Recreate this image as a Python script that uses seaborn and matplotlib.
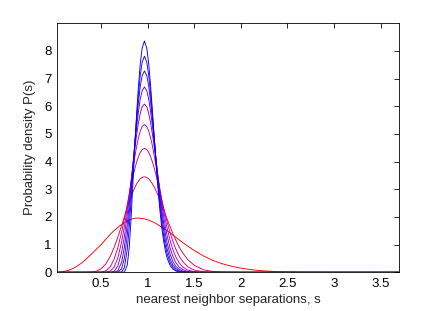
import matplotlib
matplotlib.use("Agg")
import matplotlib.pyplot as plt
import pandas as pd
import seaborn as sns

# widest (red) curve
s_red = [0.03, 0.06, 0.1, 0.15, 0.2, 0.25, 0.3, 0.35, 0.4, 0.45, 0.5, 0.55, 0.6, 0.65,
         0.7, 0.75, 0.8, 0.85, 0.9, 0.95, 1.0, 1.05, 1.1, 1.15, 1.2, 1.25, 1.3, 1.35,
         1.4, 1.45, 1.5, 1.6, 1.7, 1.8, 1.9, 2.0, 2.1, 2.2, 2.3, 2.4, 2.5, 2.6, 2.8,
         3.0, 3.7]
p_red = [0.00, 0.01, 0.03, 0.07, 0.14, 0.24, 0.36, 0.51, 0.67, 0.84, 1.00, 1.19, 1.38,
         1.54, 1.68, 1.80, 1.89, 1.95, 1.96, 1.94, 1.90, 1.83, 1.74, 1.63, 1.52, 1.40,
         1.27, 1.14, 1.02, 0.90, 0.79, 0.59, 0.43, 0.31, 0.22, 0.15, 0.10, 0.065, 0.04,
         0.025, 0.015, 0.009, 0.003, 0.001, 0.0]

# narrower curves share one grid
s_narrow = [0.03, 0.3, 0.4, 0.45, 0.5, 0.55, 0.6, 0.64, 0.68, 0.72, 0.75, 0.78, 0.80,
            0.82, 0.84, 0.86, 0.88, 0.90, 0.92, 0.94, 0.965, 0.99, 1.01, 1.03, 1.05,
            1.07, 1.09, 1.11, 1.13, 1.15, 1.17, 1.19, 1.21, 1.24, 1.27, 1.30, 1.34,
            1.38, 1.43, 1.5, 1.6, 1.7, 1.8, 2.0, 3.7]
p_1 = [0, 0, 0.01, 0.04, 0.13, 0.30, 0.59, 0.90, 1.28, 1.69, 2.01, 2.33, 2.53, 2.73,
       2.90, 3.05, 3.19, 3.29, 3.38, 3.43, 3.45, 3.43, 3.38, 3.30, 3.20, 3.08, 2.94,
       2.79, 2.62, 2.45, 2.27, 2.09, 1.91, 1.65, 1.40, 1.17, 0.90, 0.68, 0.46, 0.25,
       0.09, 0.03, 0.01, 0, 0]
p_2 = [0, 0, 0, 0, 0.01, 0.05, 0.21, 0.48, 0.90, 1.45, 1.93, 2.44, 2.78, 3.11, 3.43,
       3.72, 3.97, 4.17, 4.33, 4.43, 4.48, 4.44, 4.34, 4.19, 3.99, 3.77, 3.51, 3.23,
       2.94, 2.64, 2.35, 2.07, 1.80, 1.44, 1.12, 0.85, 0.57, 0.37, 0.20, 0.08, 0.02,
       0, 0, 0, 0]
p_3 = [0, 0, 0, 0, 0, 0, 0.05, 0.19, 0.53, 1.10, 1.67, 2.32, 2.79, 3.26, 3.72, 4.15,
       4.53, 4.85, 5.10, 5.27, 5.34, 5.27, 5.11, 4.88, 4.58, 4.22, 3.84, 3.43, 3.02,
       2.62, 2.24, 1.89, 1.57, 1.15, 0.82, 0.57, 0.33, 0.18, 0.08, 0.02, 0, 0, 0, 0, 0]
p_4 = [0, 0, 0, 0, 0, 0, 0, 0.04, 0.23, 0.72, 1.31, 2.08, 2.65, 3.25, 3.85, 4.42,
       4.94, 5.39, 5.74, 5.98, 6.08, 5.98, 5.75, 5.42, 5.00, 4.53, 4.01, 3.49, 2.97,
       2.48, 2.04, 1.64, 1.30, 0.88, 0.58, 0.36, 0.18, 0.09, 0.03, 0.01, 0, 0, 0, 0, 0]
p_5 = [0, 0, 0, 0, 0, 0, 0, 0, 0.06, 0.36, 0.91, 1.73, 2.39, 3.11, 3.84, 4.55, 5.22,
       5.79, 6.26, 6.56, 6.70, 6.56, 6.27, 5.84, 5.30, 4.70, 4.06, 3.43, 2.83, 2.28,
       1.80, 1.39, 1.04, 0.66, 0.39, 0.22, 0.10, 0.04, 0.01, 0, 0, 0, 0, 0, 0]
p_6 = [0, 0, 0, 0, 0, 0, 0, 0, 0.01, 0.13, 0.52, 1.32, 2.05, 2.88, 3.76, 4.62, 5.43,
       6.14, 6.72, 7.10, 7.28, 7.11, 6.74, 6.20, 5.54, 4.81, 4.06, 3.33, 2.66, 2.07,
       1.56, 1.15, 0.83, 0.48, 0.26, 0.14, 0.05, 0.02, 0, 0, 0, 0, 0, 0, 0]
p_7 = [0, 0, 0, 0, 0, 0, 0, 0, 0, 0.01, 0.18, 0.81, 1.56, 2.51, 3.55, 4.59, 5.57,
       6.42, 7.12, 7.59, 7.81, 7.60, 7.14, 6.49, 5.71, 4.85, 3.99, 3.19, 2.46, 1.84,
       1.34, 0.95, 0.65, 0.35, 0.18, 0.08, 0.03, 0.01, 0, 0, 0, 0, 0, 0, 0]
p_8 = [0, 0, 0, 0, 0, 0, 0, 0, 0, 0, 0.01, 0.25, 0.84, 1.86, 3.14, 4.44, 5.66, 6.69,
       7.53, 8.10, 8.36, 8.10, 7.56, 6.79, 5.87, 4.89, 3.93, 3.04, 2.27, 1.64, 1.15,
       0.77, 0.50, 0.25, 0.12, 0.05, 0.01, 0, 0, 0, 0, 0, 0, 0, 0]

curve_names = ["c0", "c1", "c2", "c3", "c4", "c5", "c6", "c7", "c8"]
x_ticks = [0.5, 1, 1.5, 2, 2.5, 3, 3.5]
x_tick_labels = ["0.5", "1", "1.5", "2", "2.5", "3", "3.5"]
y_ticks = [0, 1, 2, 3, 4, 5, 6, 7, 8]

frames = [pd.DataFrame({"s": s_red, "P": p_red, "curve": curve_names[0]})]
for name, vals in zip(curve_names[1:], [p_1, p_2, p_3, p_4, p_5, p_6, p_7, p_8]):
    frames.append(pd.DataFrame({"s": s_narrow, "P": vals, "curve": name}))
df = pd.concat(frames, ignore_index=True)

sns.set_theme(style="white")
plt.rcParams["font.family"] = ["Liberation Sans", "DejaVu Sans"]

fig = plt.figure(figsize=(4.41, 3.11), dpi=100)
ax = fig.add_axes([0.130, 0.1244, 0.7754, 0.8007])

n = len(curve_names) - 1
palette = []
for i in range(n + 1):
    t = (i / n) ** 0.7
    r, b = 1 - t, t
    k = 1.0 / (0.6 * max(r, b) + 0.4)
    palette.append((min(1, r * k), 0.0, min(1, b * k)))
sns.lineplot(data=df, x="s", y="P", hue="curve", palette=palette, legend=False,
             linewidth=0.65, sort=False, estimator=None, ax=ax)

ax.set_xlim(0.03, 3.70)
ax.set_ylim(0, 9)
ax.set_xticks(x_ticks)
ax.set_xticklabels(x_tick_labels)
ax.set_yticks(y_ticks)
ax.tick_params(direction="in", top=True, right=True, length=3.5, width=0.6,
               labelsize=9.5, colors="black", pad=4)
for sp in ax.spines.values():
    sp.set_color("black")
    sp.set_linewidth(0.6)
ax.set_xlabel("nearest neighbor separations, s", fontsize=9.5, labelpad=3)
ax.set_ylabel("Probability density P(s)", fontsize=9.5, labelpad=6)

fig.savefig("out.png", dpi=100)
